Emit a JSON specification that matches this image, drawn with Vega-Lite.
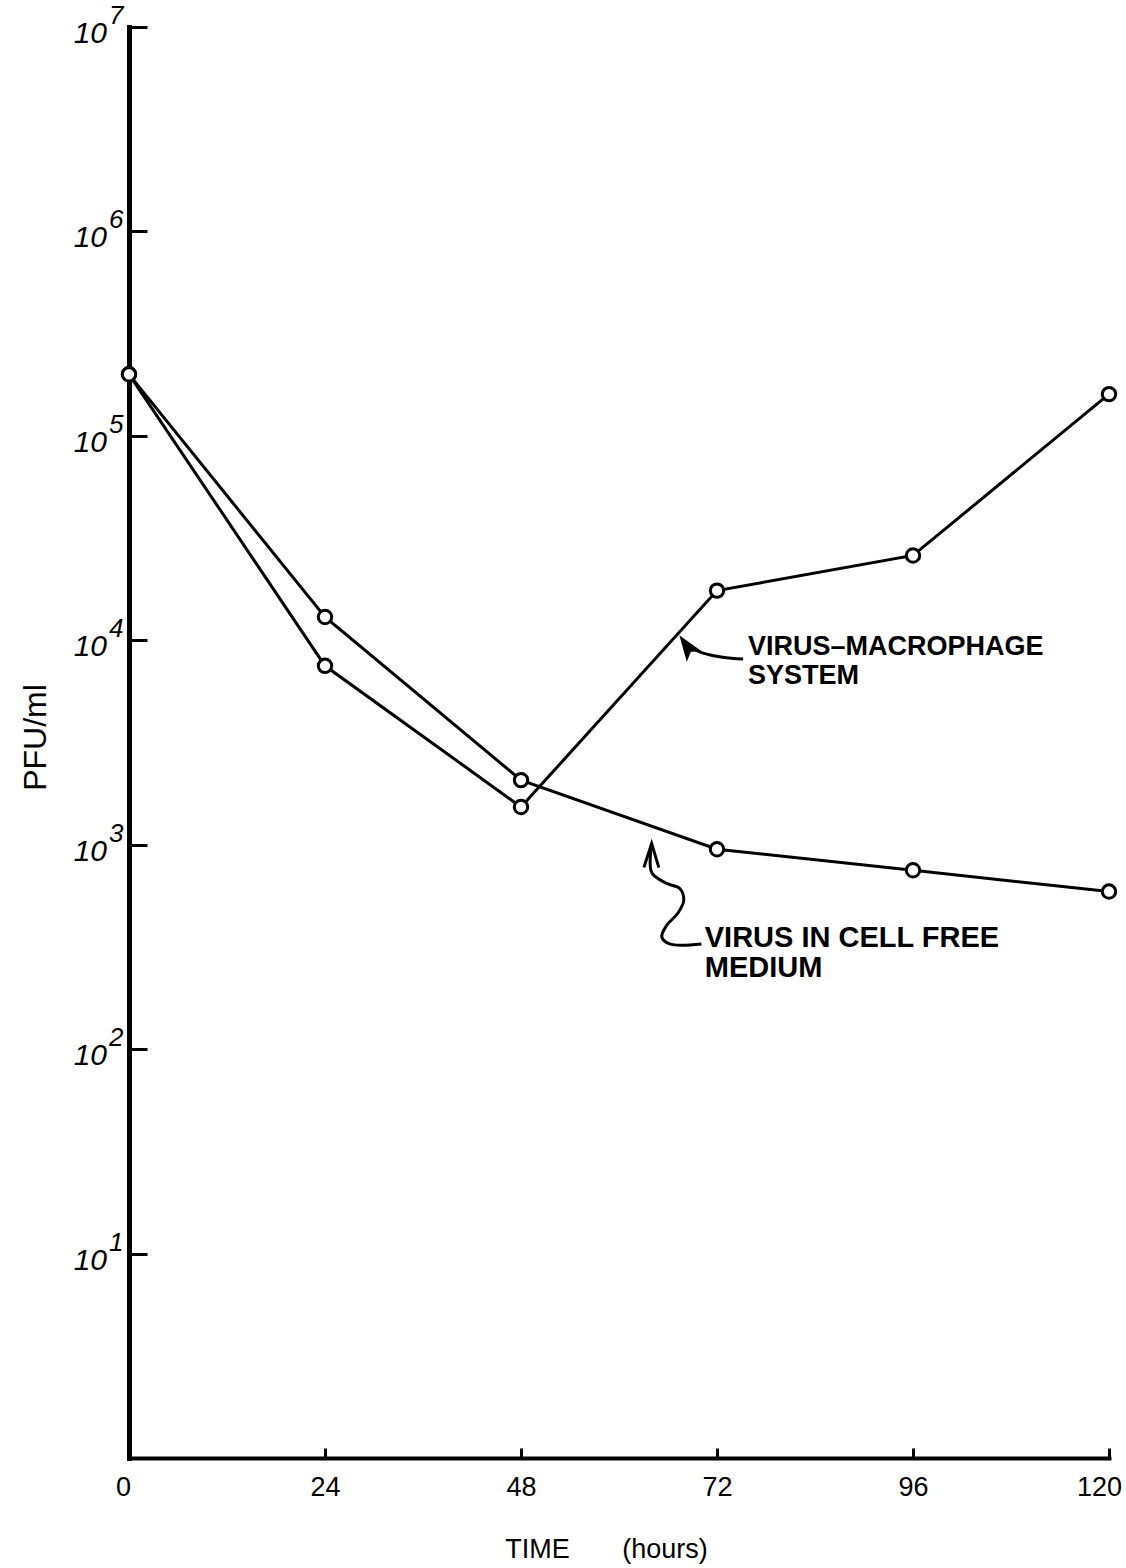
{
  "$schema": "https://vega.github.io/schema/vega-lite/v6.json",
  "width": 980,
  "height": 1431,
  "autosize": {"type": "none"},
  "padding": {"left": 129, "top": 27, "right": 17, "bottom": 110},
  "background": "white",
  "config": {
    "view": {"stroke": null},
    "font": "Liberation Sans",
    "axis": {
      "grid": false,
      "domainColor": "black",
      "tickColor": "black",
      "labelColor": "black",
      "titleColor": "black",
      "domainCap": "square"
    }
  },
  "datasets": {
    "series": [
      {"time": 0, "pfu": 200000, "system": "Virus-macrophage system"},
      {"time": 24, "pfu": 7500, "system": "Virus-macrophage system"},
      {"time": 48, "pfu": 1530, "system": "Virus-macrophage system"},
      {"time": 72, "pfu": 17500, "system": "Virus-macrophage system"},
      {"time": 96, "pfu": 26000, "system": "Virus-macrophage system"},
      {"time": 120, "pfu": 160000, "system": "Virus-macrophage system"},
      {"time": 0, "pfu": 200000, "system": "Virus in cell free medium"},
      {"time": 24, "pfu": 13000, "system": "Virus in cell free medium"},
      {"time": 48, "pfu": 2070, "system": "Virus in cell free medium"},
      {"time": 72, "pfu": 950, "system": "Virus in cell free medium"},
      {"time": 96, "pfu": 750, "system": "Virus in cell free medium"},
      {"time": 120, "pfu": 590, "system": "Virus in cell free medium"}
    ],
    "decades": [
      {"value": 10, "exponent": "1"},
      {"value": 100, "exponent": "2"},
      {"value": 1000, "exponent": "3"},
      {"value": 10000, "exponent": "4"},
      {"value": 100000, "exponent": "5"},
      {"value": 1000000, "exponent": "6"},
      {"value": 10000000, "exponent": "7"}
    ],
    "macrophageNote": [
      {"time": 75.8, "pfu": 8450, "label": "VIRUS–MACROPHAGE\nSYSTEM"}
    ],
    "cellfreeNote": [
      {"time": 70.5, "pfu": 316, "label": "VIRUS IN CELL FREE\nMEDIUM"}
    ],
    "leaders": [
      {"arrow": "macrophage", "seq": 1, "time": 75.2, "pfu": 8090},
      {"arrow": "macrophage", "seq": 2, "time": 72.7, "pfu": 8260},
      {"arrow": "macrophage", "seq": 3, "time": 70.3, "pfu": 8650},
      {"arrow": "macrophage", "seq": 4, "time": 68.7, "pfu": 9250},
      {"arrow": "cellfree", "seq": 1, "time": 64.0, "pfu": 1010},
      {"arrow": "cellfree", "seq": 2, "time": 64.0, "pfu": 731},
      {"arrow": "cellfree", "seq": 3, "time": 65.85, "pfu": 647},
      {"arrow": "cellfree", "seq": 4, "time": 67.44, "pfu": 611},
      {"arrow": "cellfree", "seq": 5, "time": 67.93, "pfu": 535},
      {"arrow": "cellfree", "seq": 6, "time": 67.2, "pfu": 462},
      {"arrow": "cellfree", "seq": 7, "time": 65.85, "pfu": 404},
      {"arrow": "cellfree", "seq": 8, "time": 65.24, "pfu": 354},
      {"arrow": "cellfree", "seq": 9, "time": 66.2, "pfu": 327},
      {"arrow": "cellfree", "seq": 10, "time": 70.1, "pfu": 327}
    ],
    "macrophageHead": [{"time": 68.3, "pfu": 9400}],
    "cellfreeHead": [{"time": 64.0, "pfu": 885}]
  },
  "layer": [
    {
      "data": {"name": "series"},
      "mark": {"type": "line", "color": "black", "strokeWidth": 3},
      "encoding": {
        "x": {
          "field": "time",
          "type": "quantitative",
          "scale": {"domain": [0, 120], "nice": false, "zero": false},
          "axis": {
            "values": [0, 24, 48, 72, 96, 120],
            "tickSize": -10,
            "tickWidth": 3,
            "domainWidth": 4,
            "labelFont": "Liberation Sans",
            "labelFontSize": 27,
            "labelPadding": 26,
            "labelFlush": false,
            "labelOverlap": false,
            "labelBound": false,
            "labelOffset": {
              "condition": [
                {"test": "datum.value == 0", "value": -6},
                {"test": "datum.value == 120", "value": -10}
              ],
              "value": 0
            },
            "title": "TIME\u00a0\u00a0\u00a0\u00a0\u00a0\u00a0\u00a0(hours)",
            "titleFont": "Liberation Sans",
            "titleFontSize": 27,
            "titleFontWeight": "normal",
            "titleX": 477,
            "titleY": 78,
            "titleAlign": "center",
            "titleBaseline": "top"
          }
        },
        "y": {
          "field": "pfu",
          "type": "quantitative",
          "scale": {"type": "log", "domain": [1, 10000000], "nice": false},
          "axis": {
            "values": [10, 100, 1000, 10000, 100000, 1000000, 10000000],
            "tickSize": -18,
            "tickWidth": 3,
            "domainWidth": 5,
            "labels": false,
            "title": "PFU/ml",
            "titleFont": "Liberation Sans",
            "titleFontSize": 32,
            "titleFontWeight": "normal",
            "titleAngle": -90,
            "titleX": -94,
            "titleY": 710,
            "titleAlign": "center",
            "titleBaseline": "middle"
          }
        },
        "detail": {"field": "system"}
      }
    },
    {
      "data": {"name": "series"},
      "mark": {"type": "point", "shape": "circle", "filled": true, "fill": "white", "stroke": "black", "strokeWidth": 3, "size": 180, "opacity": 1},
      "encoding": {
        "x": {"field": "time", "type": "quantitative"},
        "y": {"field": "pfu", "type": "quantitative"}
      }
    },
    {
      "data": {"name": "decades"},
      "mark": {"type": "text", "align": "right", "baseline": "middle", "dx": -22, "dy": 7, "fontSize": 30, "fontStyle": "italic", "font": "Liberation Sans", "color": "black"},
      "encoding": {
        "x": {"datum": 0, "type": "quantitative"},
        "y": {"field": "value", "type": "quantitative"},
        "text": {"value": "10"}
      }
    },
    {
      "data": {"name": "decades"},
      "mark": {"type": "text", "align": "left", "baseline": "middle", "dx": -20, "dy": -11, "fontSize": 26, "fontStyle": "italic", "font": "Liberation Sans", "color": "black"},
      "encoding": {
        "x": {"datum": 0, "type": "quantitative"},
        "y": {"field": "value", "type": "quantitative"},
        "text": {"field": "exponent"}
      }
    },
    {
      "data": {"name": "macrophageNote"},
      "mark": {"type": "text", "align": "left", "baseline": "alphabetic", "lineBreak": "\n", "lineHeight": 29, "fontSize": 27, "fontWeight": "bold", "font": "Liberation Sans", "color": "black"},
      "encoding": {
        "x": {"field": "time", "type": "quantitative"},
        "y": {"field": "pfu", "type": "quantitative"},
        "text": {"field": "label"}
      }
    },
    {
      "data": {"name": "cellfreeNote"},
      "mark": {"type": "text", "align": "left", "baseline": "alphabetic", "lineBreak": "\n", "lineHeight": 30, "fontSize": 29, "fontWeight": "bold", "font": "Liberation Sans", "color": "black"},
      "encoding": {
        "x": {"field": "time", "type": "quantitative"},
        "y": {"field": "pfu", "type": "quantitative"},
        "text": {"field": "label"}
      }
    },
    {
      "data": {"name": "leaders"},
      "mark": {"type": "line", "color": "black", "strokeWidth": 3, "interpolate": "catmull-rom"},
      "encoding": {
        "x": {"field": "time", "type": "quantitative"},
        "y": {"field": "pfu", "type": "quantitative"},
        "detail": {"field": "arrow"},
        "order": {"field": "seq"}
      }
    },
    {
      "data": {"name": "macrophageHead"},
      "mark": {"type": "point", "shape": "M 0 -1 L 0.7 1 L 0 0.55 L -0.7 1 Z", "filled": true, "color": "black", "opacity": 1, "size": 676, "angle": 325},
      "encoding": {
        "x": {"field": "time", "type": "quantitative"},
        "y": {"field": "pfu", "type": "quantitative"}
      }
    },
    {
      "data": {"name": "cellfreeHead"},
      "mark": {"type": "point", "shape": "M -0.65 1 L 0 -1 L 0.6 1", "filled": false, "stroke": "black", "strokeWidth": 3, "opacity": 1, "size": 576},
      "encoding": {
        "x": {"field": "time", "type": "quantitative"},
        "y": {"field": "pfu", "type": "quantitative"}
      }
    }
  ]
}
